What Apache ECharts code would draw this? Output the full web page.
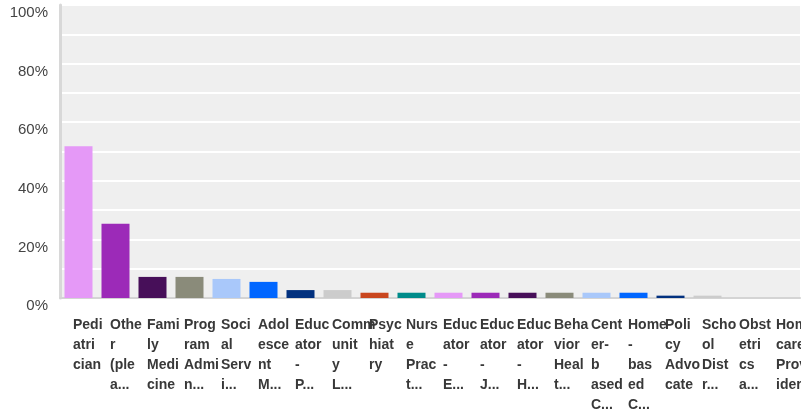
<!DOCTYPE html>
<html>
<head>
<meta charset="utf-8">
<script src="https://cdn.jsdelivr.net/npm/echarts@6/dist/echarts.min.js"></script>
<style>
    html, body { margin: 0; padding: 0; background: #fff; }
    #main { width: 801px; height: 417px; }
</style>
</head>
<body>
<div id="main"></div>
<script>
// tick labels as shown (already wrapped / truncated like the original)
const categories = [
    'Pedi\natri\ncian',
    'Othe\nr\n(ple\na...',
    'Fami\nly\nMedi\ncine',
    'Prog\nram\nAdmi\nn...',
    'Soci\nal\nServ\ni...',
    'Adol\nesce\nnt\nM...',
    'Educ\nator\n-\nP...',
    'Comm\nunit\ny\nL...',
    'Psyc\nhiat\nry',
    'Nurs\ne\nPrac\nt...',
    'Educ\nator\n-\nE...',
    'Educ\nator\n-\nJ...',
    'Educ\nator\n-\nH...',
    'Beha\nvior\nHeal\nt...',
    'Cent\ner-\nb\nased\nC...',
    'Home\n-\nbas\ned\nC...',
    'Poli\ncy\nAdvo\ncate',
    'Scho\nol\nDist\nr...',
    'Obst\netri\ncs\na...',
    'Home\ncare\nProv\nider'
];

// percent of respondents
const values = [51.8, 25.3, 7.2, 7.2, 6.5, 5.5, 2.7, 2.7, 1.8, 1.8,
                1.8, 1.8, 1.8, 1.8, 1.8, 1.8, 0.8, 0.8, 0, 0];

const palette = ['#e599f7', '#9c2ab8', '#470f59', '#8a8b7a', '#a9c8fa',
                 '#0066ff', '#02317f', '#cccccc', '#c9461e', '#008b8a'];

const yTicks = [0, 20, 40, 60, 80, 100];

const font = '"Liberation Sans", Arial, sans-serif';

const chart = echarts.init(document.getElementById('main'));
const option = {
    animation: false,
    grid: {
        left: 60,
        right: 1,
        top: 5,
        bottom: 119,
        show: true,
        backgroundColor: '#efefef',
        borderWidth: 0,
        containLabel: false,
        outerBoundsMode: 'none'
    },
    xAxis: {
        type: 'category',
        data: categories,
        axisTick: { show: false },
        axisLine: { lineStyle: { color: '#d4d4d4', width: 2 } },
        axisLabel: {
            interval: 0,
            margin: 17,
            align: 'center',
            width: 11,
            overflow: 'none',
            formatter: v => v.split('\n').map(s => '{l|' + s + '}').join('\n'),
            rich: {
                l: {
                    align: 'left',
                    fontFamily: font,
                    fontSize: 14,
                    fontWeight: 'bold',
                    color: '#383838',
                    lineHeight: 20
                }
            }
        }
    },
    yAxis: {
        type: 'value',
        min: 0,
        max: 100,
        interval: 10,
        axisLine: { show: true, lineStyle: { color: '#d8d8d8', width: 3 } },
        axisTick: { show: false },
        splitLine: { lineStyle: { color: '#ffffff', width: 2 } },
        axisLabel: {
            margin: 12,
            verticalAlign: 'top',
            lineHeight: 16,
            fontFamily: font,
            fontSize: 15,
            color: '#444',
            formatter: v => yTicks.includes(v) ? v + '%' : ''
        }
    },
    series: [{
        type: 'bar',
        barWidth: 28,
        data: values.map((v, i) => ({
            value: v,
            itemStyle: { color: palette[i % palette.length] }
        }))
    }]
};
chart.setOption(option);
</script>
</body>
</html>
